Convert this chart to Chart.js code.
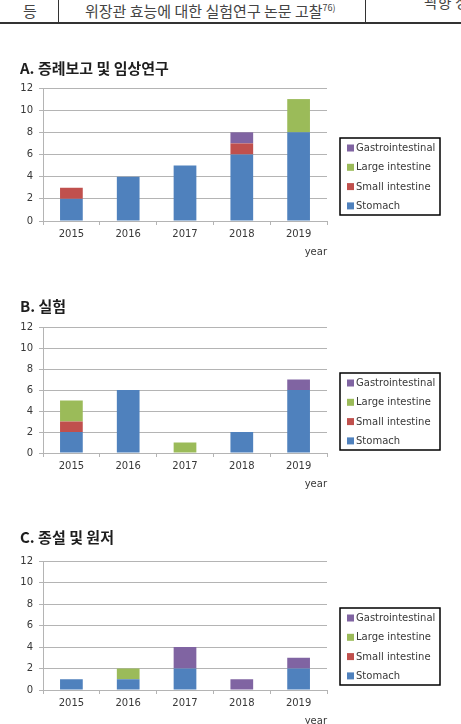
<!DOCTYPE html>
<html>
<head>
<meta charset="utf-8">
<script src="https://cdn.jsdelivr.net/npm/chart.js@4"></script>
<style>
  body { margin: 0; background: #fff; width: 461px; height: 724px; overflow: hidden; position: relative; font-family: "Noto Sans CJK KR", sans-serif; }
  .line { position: absolute; background: #333; }
  .cell { position: absolute; color: #444; font-size: 15px; line-height: 22px; white-space: nowrap; }
  canvas { position: absolute; left: 0; }
</style>
</head>
<body>
  <!-- 위쪽 표의 끝부분. -->
  <div class="line" style="left:0;top:22px;width:461px;height:2px"></div>
  <div class="line" style="left:58px;top:0;width:1px;height:23px"></div>
  <div class="line" style="left:365px;top:0;width:1px;height:23px"></div>
  <div class="cell" style="left:23px;top:0px">등</div>
  <div class="cell" style="left:85px;top:0px">위장관 효능에 대한 실험연구 논문 고찰<sup style="font-size:9px;line-height:0">76)</sup></div>
  <div class="cell" style="left:424px;top:-9px">곽향 정</div>

  <canvas id="chart-a" width="461" height="204" style="top:55px"></canvas>
  <canvas id="chart-b" width="461" height="201" style="top:290px"></canvas>
  <canvas id="chart-c" width="461" height="208" style="top:520px"></canvas>

<script>
// 데이터.
const Years = ['2015', '2016', '2017', '2018', '2019'];
const SeriesName = ['Stomach', 'Small intestine', 'Large intestine', 'Gastrointestinal'];
const SeriesColor = ['#4f81bd', '#c0504d', '#9bbb59', '#8064a2'];

// A. 증례보고 및 임상연구.
const ClinicalStomach = [2, 4, 5, 6, 8];
const ClinicalSmall   = [1, 0, 0, 1, 0];
const ClinicalLarge   = [0, 0, 0, 0, 3];
const ClinicalGastro  = [0, 0, 0, 1, 0];

// B. 실험.
const ExpStomach = [2, 6, 0, 2, 6];
const ExpSmall   = [1, 0, 0, 0, 0];
const ExpLarge   = [2, 0, 1, 0, 0];
const ExpGastro  = [0, 0, 0, 0, 1];

// C. 종설 및 원저.
const ReviewStomach = [1, 1, 2, 0, 2];
const ReviewSmall   = [0, 0, 0, 0, 0];
const ReviewLarge   = [0, 1, 0, 0, 0];
const ReviewGastro  = [0, 0, 2, 1, 1];

const TickFont = { family: 'DejaVu Sans', size: 10 };
const TextColor = '#383838';
const GridColor = '#b4b4b4';

// 테두리 있는 범례 (엑셀 스타일).
const boxLegend = {
  id: 'boxLegend',
  afterDraw(chart, args, opts) {
    const ctx = chart.ctx;
    const area = chart.chartArea;
    const x = area.right + 13;
    const y = area.top + opts.top;
    const items = chart.data.datasets.slice().reverse();
    ctx.save();
    ctx.strokeStyle = '#000';
    ctx.lineWidth = 1.5;
    ctx.strokeRect(x, y, 100, 77);
    ctx.font = '10px "DejaVu Sans"';
    ctx.textBaseline = 'middle';
    items.forEach(function(ds, i) {
      const cy = y + 10 + i * 19.3;
      ctx.fillStyle = ds.backgroundColor;
      ctx.fillRect(x + 7, cy - 3.5, 7, 7);
      ctx.fillStyle = TextColor;
      ctx.fillText(ds.label, x + 16, cy + 0.5);
    });
    ctx.restore();
  }
};

function createChart(id, title, titlePad, legendTop, series) {
  return new Chart(document.getElementById(id), {
    type: 'bar',
    data: {
      labels: Years,
      datasets: series.map(function(values, i) {
        return {
          label: SeriesName[i],
          data: values,
          backgroundColor: SeriesColor[i],
          categoryPercentage: 1.0,
          barPercentage: 0.4,
        };
      }),
    },
    options: {
      responsive: false,
      animation: false,
      layout: { padding: { left: 20, right: 134, top: 0, bottom: 0 } },
      plugins: {
        legend: { display: false },
        tooltip: { enabled: false },
        title: {
          display: true,
          text: title,
          align: 'start',
          color: '#1e1e1e',
          font: { family: 'Noto Sans CJK KR', size: 15, weight: 'bold', lineHeight: 1.2 },
          padding: titlePad,
        },
        boxLegend: { top: legendTop },
      },
      scales: {
        x: {
          stacked: true,
          afterFit: function(s) { s.height = 38; },
          grid: { offset: true, drawOnChartArea: false, drawTicks: true, tickLength: 4, color: GridColor },
          border: { display: true, color: GridColor },
          ticks: { font: TickFont, color: TextColor, padding: 3 },
          title: {
            display: true,
            text: 'year',
            align: 'end',
            color: TextColor,
            font: TickFont,
            padding: { top: 0, bottom: 1 },
          },
        },
        y: {
          stacked: true,
          min: 0,
          max: 12,
          afterFit: function(s) { s.width = 23; },
          grid: { color: GridColor, tickLength: 4 },
          border: { display: true, color: GridColor },
          ticks: { stepSize: 2, font: TickFont, color: TextColor, padding: 6 },
        },
      },
    },
    plugins: [boxLegend],
  });
}

createChart('chart-a', 'A. 증례보고 및 임상연구', { top: 4, bottom: 11 }, 50,
  [ClinicalStomach, ClinicalSmall, ClinicalLarge, ClinicalGastro]);
createChart('chart-b', 'B. 실험', { top: 7, bottom: 12 }, 46,
  [ExpStomach, ExpSmall, ExpLarge, ExpGastro]);
createChart('chart-c', 'C. 종설 및 원저', { top: 8, bottom: 15 }, 47,
  [ReviewStomach, ReviewSmall, ReviewLarge, ReviewGastro]);
</script>
</body>
</html>
